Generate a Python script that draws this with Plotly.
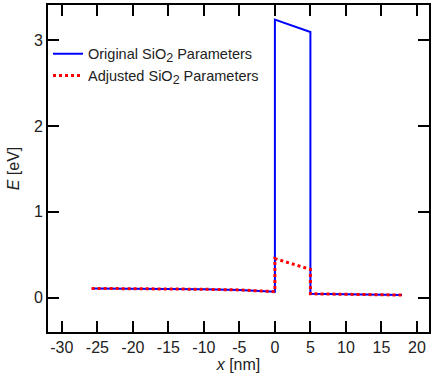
import plotly.graph_objects as go

x_orig = [-25.8, -20, -15, -10, -5, -2, 0, 0, 5, 5, 10, 15, 17.9]
e_orig = [0.108, 0.106, 0.103, 0.098, 0.09, 0.08, 0.07, 3.24, 3.095, 0.045, 0.038, 0.033, 0.03]
x_adj = [-25.8, -20, -15, -10, -5, -2, 0, 0, 5, 5, 10, 15, 17.9]
e_adj = [0.108, 0.106, 0.103, 0.098, 0.09, 0.08, 0.07, 0.455, 0.33, 0.045, 0.038, 0.033, 0.03]
x_ticks = [-30, -25, -20, -15, -10, -5, 0, 5, 10, 15, 20]
x_ticklabels = ["-30", "-25", "-20", "-15", "-10", "-5", "0", "5", "10", "15", "20"]
y_ticks = [0, 1, 2, 3]
y_ticklabels = ["0", "1", "2", "3"]

FONT = "Liberation Sans, Arial"
sub2 = "<sub><span style='font-size:12.5px'>2</span></sub>"

fig = go.Figure()
fig.add_trace(go.Scatter(x=x_orig, y=e_orig, mode="lines",
                         line=dict(color="#0000ff", width=2),
                         name="Original SiO" + sub2 + " Parameters"))
fig.add_trace(go.Scatter(x=x_adj, y=e_adj, mode="lines",
                         line=dict(color="#ff0000", width=3, dash="dot"),
                         name="Adjusted SiO" + sub2 + " Parameters"))

axis_common = dict(showline=True, linecolor="black", linewidth=2, mirror="allticks",
                   ticks="inside", ticklen=11, tickwidth=2, tickcolor="black",
                   showgrid=False, zeroline=False,
                   tickfont=dict(family=FONT, size=16, color="#222"))

fig.update_xaxes(range=[-31.95, 21.7], tickvals=x_ticks, ticktext=x_ticklabels,
                 title=dict(text="<i>x</i> [nm]", font=dict(family=FONT, size=16, color="#222"), standoff=4),
                 **axis_common)
fig.update_yaxes(range=[-0.40, 3.41], tickvals=y_ticks, ticktext=y_ticklabels,
                 title=dict(text="<i>E</i> [eV]", font=dict(family=FONT, size=16, color="#222"), standoff=10),
                 **axis_common)

fig.update_layout(width=432, height=382, margin=dict(l=48, r=1, t=5, b=50),
                  plot_bgcolor="white", paper_bgcolor="white",
                  legend=dict(x=0.0, y=0.9, xanchor="left", yanchor="top",
                              bgcolor="rgba(0,0,0,0)", tracegroupgap=0,
                              font=dict(family=FONT, size=14.5, color="#222")))
fig.write_html("out.html")
